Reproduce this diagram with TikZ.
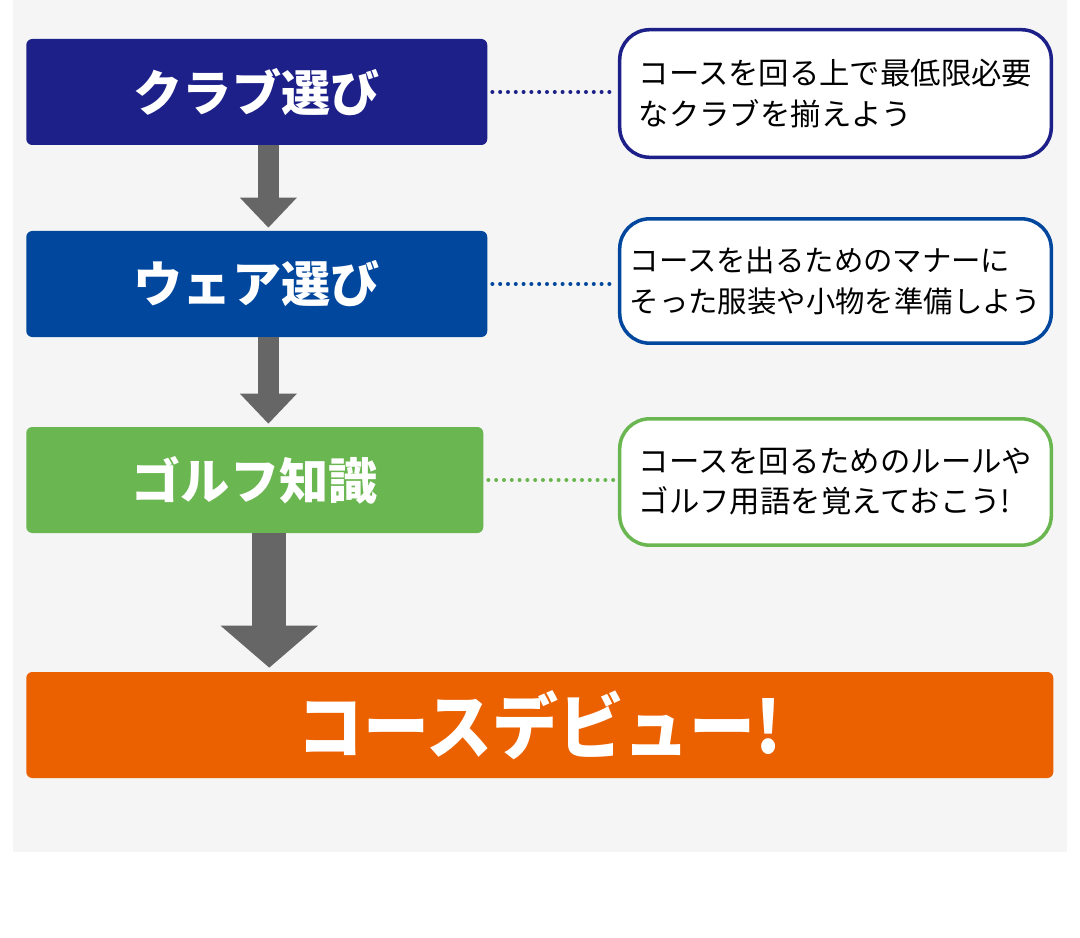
\documentclass[tikz,border=0pt]{standalone}
\usepackage{fontspec}
\usepackage{graphicx}
\setmainfont{Noto Sans CJK JP}
\usetikzlibrary{arrows.meta}

\definecolor{clubblue}{HTML}{1D2088}
\definecolor{wearblue}{HTML}{00479D}
\definecolor{golfgreen}{HTML}{6AB650}
\definecolor{debutorange}{HTML}{EB6100}
\definecolor{arrowgray}{HTML}{666666}
\definecolor{bggray}{HTML}{F5F5F5}

\tikzset{
  stepbox/.style={anchor=west, rounded corners=0.15cm, minimum width=11.525cm, minimum height=2.65cm, text=white, font=\fontsize{35}{42}\selectfont\bfseries},
  notebox/.style={draw=#1, fill=white, line width=2.5pt, rounded corners=0.75cm, minimum width=10.79cm, inner xsep=0pt, align=left, font=\fontsize{21.6}{28.5}\selectfont},
  dotlink/.style={draw=#1, line width=0.1cm, line cap=round, dash pattern=on 0pt off 0.195cm, shorten <=0.12cm, shorten >=0.08cm},
  flowarrow/.style={arrowgray, line width=0.525cm, -{Triangle[width=1.375cm,length=0.75cm]}},
  bigarrow/.style={arrowgray, line width=0.85cm, -{Triangle[width=2.375cm,length=1.05cm]}},
}

\begin{document}
\begin{tikzpicture}

\useasboundingbox (0,0) rectangle (27,-23.45);

%\draw(0,0) grid (27,-23.45);

\fill[bggray] (0.325,0) rectangle (26.675,-21.3);


% left column
\node[stepbox, fill=clubblue] (club) at (0.65,-2.3) {クラブ選び};
\node[stepbox, fill=wearblue] (wear) at (0.65,-7.1) {ウェア選び};
\node[stepbox, fill=golfgreen, minimum width=11.425cm] (golf) at (0.65,-12.0) {ゴルフ知識};

\node[stepbox, fill=debutorange, minimum width=25.675cm, font=\fontsize{51}{60}\selectfont\bfseries] (debut) at (0.65,-18.125) {\scalebox{0.92}[1]{コースデビュー!}};


% right column
\node[notebox=clubblue, minimum height=3.19cm] (clubnote) at (20.8875,-2.3375) {コースを回る上で最低限必要\\なクラブを揃えよう};
\node[notebox=wearblue, minimum height=3.11cm, font=\fontsize{20.9}{28.5}\selectfont] (wearnote) at (20.8875,-7.025) {コースを出るためのマナーに\\そった服装や小物を準備しよう};
\node[notebox=golfgreen, minimum height=3.16cm] (golfnote) at (20.8875,-12.05) {コースを回るためのルールや\\ゴルフ用語を覚えておこう!};


\draw[dotlink=clubblue] (club.east) -- (club.east -| clubnote.west);
\draw[dotlink=wearblue] (wear.east) -- (wear.east -| wearnote.west);
\draw[dotlink=golfgreen] (golf.east) -- (golf.east -| golfnote.west);


% arrows
\draw[flowarrow] ([xshift=0.29cm]club.south) -- ([xshift=0.29cm,yshift=0.075cm]club.south |- wear.north);
\draw[flowarrow] ([xshift=0.29cm]wear.south) -- ([xshift=0.29cm,yshift=0.075cm]wear.south |- golf.north);
\draw[bigarrow] ([xshift=0.3625cm]golf.south) -- ([xshift=0.3625cm,yshift=0.1cm]golf.south |- debut.north);

\end{tikzpicture}
\end{document}
